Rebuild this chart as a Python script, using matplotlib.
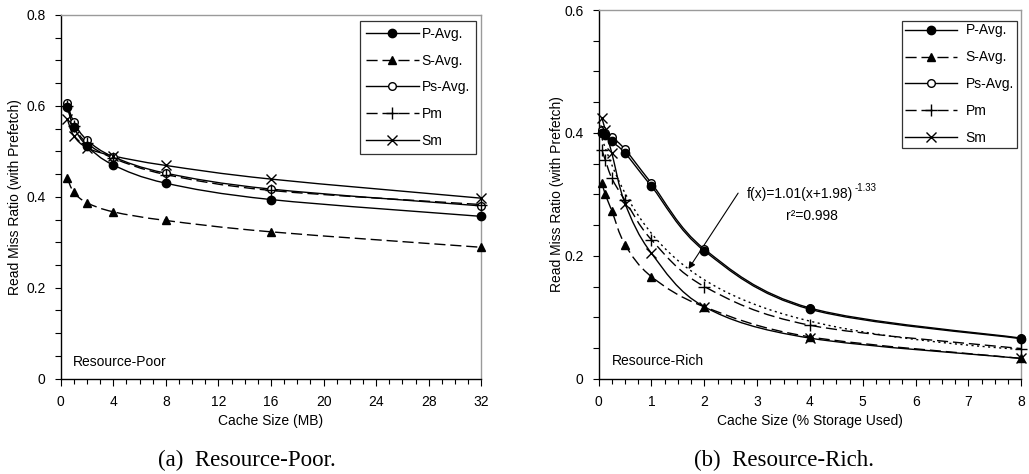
import numpy as np
import matplotlib
matplotlib.use("Agg")
import matplotlib.pyplot as plt
from matplotlib.path import Path
from matplotlib.patches import PathPatch
from matplotlib.lines import Line2D
from matplotlib.ticker import MultipleLocator

plt.rcParams["font.family"] = ["Liberation Sans", "DejaVu Sans"]
plt.rcParams["font.size"] = 10

# (a) Resource-Poor: cache size in MB
poor_x = [0.5, 1, 2, 4, 8, 16, 32]
poor_p_avg = [0.598, 0.553, 0.512, 0.470, 0.430, 0.394, 0.357]
poor_s_avg = [0.441, 0.410, 0.387, 0.367, 0.348, 0.323, 0.289]
poor_ps_avg = [0.606, 0.564, 0.525, 0.488, 0.452, 0.417, 0.380]
poor_pm = [0.600, 0.556, 0.518, 0.485, 0.449, 0.414, 0.383]
poor_sm = [0.571, 0.534, 0.508, 0.490, 0.469, 0.439, 0.397]

# (b) Resource-Rich: cache size in % of storage used
rich_x = [0.0625, 0.125, 0.25, 0.5, 1, 2, 4, 8]
rich_p_avg = [0.400, 0.396, 0.386, 0.367, 0.313, 0.208, 0.113, 0.065]
rich_s_avg = [0.318, 0.300, 0.273, 0.218, 0.166, 0.117, 0.068, 0.033]
rich_ps_avg = [0.405, 0.400, 0.393, 0.373, 0.318, 0.211, 0.115, 0.066]
rich_pm = [0.372, 0.356, 0.326, 0.290, 0.226, 0.150, 0.087, 0.049]
rich_sm = [0.424, 0.405, 0.367, 0.285, 0.204, 0.117, 0.066, 0.033]

# power-law fit shown on panel (b)
fit_a, fit_b, fit_c = 1.01, 1.98, -1.33

series_names = ["P-Avg.", "S-Avg.", "Ps-Avg.", "Pm", "Sm"]
draw_order = [2, 0, 1, 3, 4]  # open circles go underneath the filled ones
DASH = (0, (8, 3.5))
styles = {
    "P-Avg.": dict(ls="-", marker="o", mfc="black", ms=6),
    "S-Avg.": dict(ls=DASH, marker="^", mfc="black", ms=6),
    "Ps-Avg.": dict(ls="-", marker="o", mfc="white", ms=5.5),
    "Pm": dict(ls=DASH, marker="+", mfc="black", ms=8),
    "Sm": dict(ls="-", marker="x", mfc="black", ms=6.5),
}


def smooth_path(x, y):
    # cubic Bezier segments through the points (Excel-like smoothed line)
    pts = np.column_stack([x, y]).astype(float)
    n = len(pts)
    verts = [pts[0]]
    codes = [Path.MOVETO]
    for i in range(n - 1):
        p0 = pts[max(i - 1, 0)]
        p1, p2 = pts[i], pts[i + 1]
        p3 = pts[min(i + 2, n - 1)]
        verts += [p1 + (p2 - p0) / 6, p2 - (p3 - p1) / 6, p2]
        codes += [Path.CURVE4] * 3
    return Path(verts, codes)


def draw_series(ax, x, y, name, z):
    st = styles[name]
    ax.add_patch(PathPatch(smooth_path(x, y), fill=False, ec="black",
                           lw=1.0, ls=st["ls"], zorder=3 + z * 0.1, clip_on=False))
    ax.plot(x, y, ls="none", marker=st["marker"], mfc=st["mfc"], mec="black",
            ms=st["ms"], mew=1.0, zorder=4 + z * 0.1, clip_on=False)


def style_axes(ax, xmax, xmajor, xminor, ymax, label_x):
    ax.set_xlim(0, xmax)
    ax.set_ylim(0, ymax)
    ax.xaxis.set_major_locator(MultipleLocator(xmajor))
    ax.xaxis.set_minor_locator(MultipleLocator(xminor))
    ax.yaxis.set_major_locator(MultipleLocator(0.2))
    ax.yaxis.set_minor_locator(MultipleLocator(0.05))
    ax.yaxis.set_major_formatter(lambda v, p: "0" if abs(v) < 1e-9 else f"{v:.1f}")
    ax.tick_params(axis="x", which="major", length=5, width=0.8, pad=7, labelsize=10)
    ax.tick_params(axis="x", which="minor", length=3.5, width=0.8)
    ax.tick_params(axis="y", which="both", length=4, width=0.8, pad=7, labelsize=10)
    for side in ("left", "bottom"):
        ax.spines[side].set_color("black")
        ax.spines[side].set_linewidth(1.0)
    for side in ("top", "right"):
        ax.spines[side].set_color("#9a9a9a")
        ax.spines[side].set_linewidth(1.0)
    ax.set_ylabel("Read Miss Ratio (with Prefetch)", fontsize=10)
    ax.yaxis.set_label_coords(label_x, 0.5)


def add_legend(ax, anchor, pad, spacing, textpad):
    handles = []
    for name in series_names:
        st = styles[name]
        handles.append(Line2D([], [], color="black", lw=1.0, ls=st["ls"],
                              marker=st["marker"], mfc=st["mfc"], mec="black",
                              ms=st["ms"], mew=1.0))
    leg = ax.legend(handles, series_names, loc="upper right",
                    bbox_to_anchor=anchor, bbox_transform=fig.transFigure,
                    borderaxespad=0, frameon=True, fancybox=False,
                    handlelength=3.8, handletextpad=textpad, labelspacing=spacing,
                    borderpad=pad, numpoints=1, fontsize=10)
    leg.get_frame().set_edgecolor("black")
    leg.get_frame().set_linewidth(0.9)


fig = plt.figure(figsize=(10.29, 4.74), dpi=100)
ax1 = fig.add_axes([0.059, 0.2011, 0.4088, 0.7673])
ax2 = fig.add_axes([0.5818, 0.2011, 0.4107, 0.7778])

# panel (a)
poor_series = [poor_p_avg, poor_s_avg, poor_ps_avg, poor_pm, poor_sm]
for z, i in enumerate(draw_order):
    draw_series(ax1, poor_x, poor_series[i], series_names[i], z)
style_axes(ax1, 32, 4, 1, 0.8, -0.092)
ax1.set_xlabel("Cache Size (MB)", fontsize=10, labelpad=3)
ax1.text(0.03, 0.047, "Resource-Poor", transform=ax1.transAxes,
         ha="left", va="center", fontsize=10)
add_legend(ax1, (0.4626, 0.9563), 0.45, 0.91, 0.2)

# panel (b)
rich_series = [rich_p_avg, rich_s_avg, rich_ps_avg, rich_pm, rich_sm]
for z, i in enumerate(draw_order):
    draw_series(ax2, rich_x, rich_series[i], series_names[i], z)
fit_x = np.linspace(rich_x[0], 8, 200)
ax2.plot(fit_x, fit_a * (fit_x + fit_b) ** fit_c, color="black", lw=1.0,
         ls=(0, (1.5, 2.5)), zorder=3)
style_axes(ax2, 8, 1, 0.25, 0.6, -0.082)
ax2.set_xlabel("Cache Size (% Storage Used)", fontsize=10, labelpad=3)
ax2.text(0.031, 0.047, "Resource-Rich", transform=ax2.transAxes,
         ha="left", va="center", fontsize=10)
add_legend(ax2, (0.988, 0.9563), 0.2, 0.93, 0.6)

arrow_x = 1.70
ax2.annotate("", xy=(arrow_x, fit_a * (arrow_x + fit_b) ** fit_c), xytext=(2.64, 0.302),
             arrowprops=dict(arrowstyle="-|>", color="black", lw=0.8,
                             mutation_scale=10, shrinkA=0, shrinkB=0))
fit_txt = ax2.text(2.80, 0.300, f"f(x)={fit_a}(x+{fit_b})", ha="left", va="center",
                   fontsize=10)
ax2.annotate(f"{fit_c}", xy=(1.0, 0.62), xycoords=fit_txt, xytext=(1, 0),
             textcoords="offset points", ha="left", va="bottom", fontsize=7)
ax2.text(4.04, 0.264, "r\u00b2=0.998", ha="center", va="center", fontsize=10)

fig.text(0.2396, 0.029, "(a)  Resource-Poor.", ha="center", va="center",
         family=["Liberation Serif", "DejaVu Serif"], fontsize=16.5)
fig.text(0.762, 0.029, "(b)  Resource-Rich.", ha="center", va="center",
         family=["Liberation Serif", "DejaVu Serif"], fontsize=16.5)

fig.savefig("out.png", dpi=100)
